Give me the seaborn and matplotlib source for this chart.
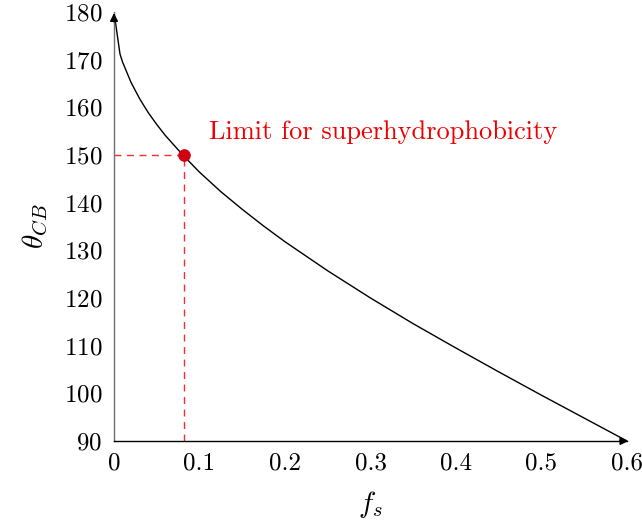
import matplotlib
matplotlib.use("Agg")
import matplotlib.pyplot as plt
import seaborn as sns
import pandas as pd

# Data
fs_vals = [0.0, 0.007, 0.01, 0.02, 0.03, 0.04, 0.05, 0.06, 0.08, 0.1, 0.125, 0.15, 0.175, 0.2,
           0.25, 0.3, 0.35, 0.4, 0.45, 0.5, 0.55, 0.6]
theta_vals = [180.0, 171.2, 169.5, 165.2, 161.8, 158.9, 156.4, 154.1, 150.1, 146.4, 142.3, 138.6,
              135.1, 131.8, 125.7, 120.0, 114.6, 109.5, 104.5, 99.6, 94.8, 90.0]
limit_fs = [0.082]
limit_theta = [150.0]
x_ticks = [0, 0.1, 0.2, 0.3, 0.4, 0.5, 0.6]
y_ticks = [90, 100, 110, 120, 130, 140, 150, 160, 170, 180]
x_tick_labels = ["0", "0.1", "0.2", "0.3", "0.4", "0.5", "0.6"]
annotation_text = "Limit for superhydrophobicity"

df = pd.DataFrame({"fs": fs_vals, "theta": theta_vals})

sns.set_theme(style="white")
plt.rcParams["font.family"] = ["cmr10", "DejaVu Serif"]
plt.rcParams["mathtext.fontset"] = "cm"
plt.rcParams["axes.formatter.use_mathtext"] = True
plt.rcParams["text.color"] = "black"
plt.rcParams["axes.labelcolor"] = "black"
plt.rcParams["xtick.labelcolor"] = "black"
plt.rcParams["ytick.labelcolor"] = "black"

fig = plt.figure(figsize=(6.42, 5.2), dpi=100)
ax = fig.add_axes([114 / 642, (520 - 441) / 520, 513 / 642, 429 / 520])

sns.lineplot(data=df, x="fs", y="theta", ax=ax, color="black", linewidth=1.0)

# dashed guides
ax.plot([0, limit_fs[0]], [limit_theta[0], limit_theta[0]], color="#f03030", linestyle=(0, (5, 4)), linewidth=1.0)
ax.plot([limit_fs[0], limit_fs[0]], [90, limit_theta[0]], color="#f03030", linestyle=(0, (5, 4)), linewidth=1.0)
sns.scatterplot(x=limit_fs, y=limit_theta, ax=ax, color="#d00010", s=70, edgecolor="#d00010", zorder=5)

ax.text(0.111, 154.7, annotation_text, color="#ee0000", fontsize=19, ha="left", va="center")

ax.set_xlim(0, 0.6)
ax.set_ylim(90, 180)
ax.set_xticks(x_ticks)
ax.set_xticklabels(x_tick_labels)
ax.set_yticks(y_ticks)
ax.tick_params(axis="both", direction="inout", length=7, width=0.8, color="#888888",
               labelsize=18, pad=5, labelcolor="black")
for s in ["top", "right"]:
    ax.spines[s].set_visible(False)
ax.spines["left"].set_color("#707070")
ax.spines["bottom"].set_color("black")
ax.spines["left"].set_linewidth(1.0)
ax.spines["bottom"].set_linewidth(1.0)

# arrowheads
ax.annotate("", xy=(1.008, 0), xytext=(0.98, 0), xycoords="axes fraction",
            arrowprops=dict(arrowstyle="-|>", color="black", lw=1.0, mutation_scale=12), annotation_clip=False)
ax.annotate("", xy=(0, 1.004), xytext=(0, 0.97), xycoords="axes fraction",
            arrowprops=dict(arrowstyle="-|>", color="black", lw=1.0, mutation_scale=12), annotation_clip=False)

ax.set_xlabel(r"$f_s$", fontsize=21, labelpad=10)
ax.set_ylabel(r"$\theta_{CB}$", fontsize=21, labelpad=10)

fig.savefig("out.png", dpi=100)
